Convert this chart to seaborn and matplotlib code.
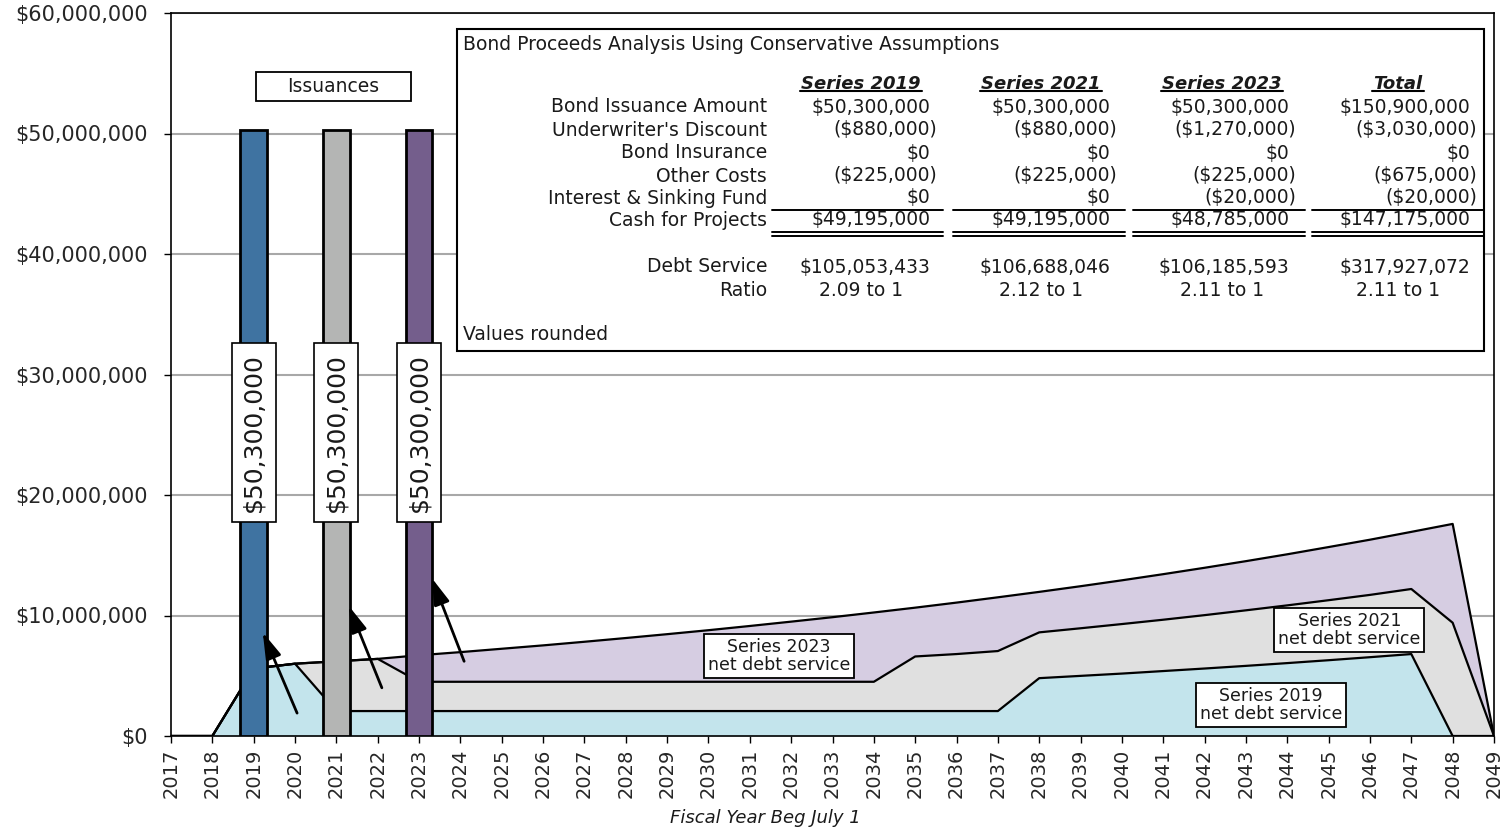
import matplotlib
matplotlib.use("Agg")
import matplotlib.pyplot as plt
import seaborn as sns
from matplotlib.patches import Rectangle
from matplotlib.lines import Line2D

# ---------------- data (values in $ millions) ----------------
years = [2017, 2018, 2019, 2020, 2021, 2022, 2023, 2024, 2025, 2026, 2027,
         2028, 2029, 2030, 2031, 2032, 2033, 2034, 2035, 2036, 2037, 2038,
         2039, 2040, 2041, 2042, 2043, 2044, 2045, 2046, 2047, 2048, 2049]

series_2019 = [0.00, 0.00, 5.60, 6.00, 2.07, 2.07, 2.07, 2.07, 2.07, 2.07, 2.07,
               2.07, 2.07, 2.07, 2.07, 2.07, 2.07, 2.07, 2.07, 2.07, 2.07, 4.80,
               4.99, 5.18, 5.39, 5.60, 5.82, 6.05, 6.29, 6.54, 6.80, 0.00, 0.00]

series_2021 = [0.00, 0.00, 0.00, 0.00, 4.13, 4.33, 2.43, 2.43, 2.43, 2.43, 2.43,
               2.43, 2.43, 2.43, 2.43, 2.43, 2.43, 2.43, 4.53, 4.73, 4.98, 3.80,
               3.95, 4.11, 4.26, 4.43, 4.61, 4.79, 4.98, 5.17, 5.40, 9.40, 0.00]

series_2023 = [0.00, 0.00, 0.00, 0.00, 0.00, 0.00, 2.20, 2.46, 2.74, 3.02, 3.32,
               3.63, 3.95, 4.28, 4.63, 4.99, 5.36, 5.75, 4.05, 4.27, 4.46, 3.36,
               3.49, 3.63, 3.78, 3.93, 4.08, 4.24, 4.41, 4.58, 4.74, 8.20, 0.00]

issue_years = [2019, 2021, 2023]
issue_amounts = [50.3, 50.3, 50.3]
issue_labels = ["$50,300,000", "$50,300,000", "$50,300,000"]

y_ticks = [0, 10, 20, 30, 40, 50, 60]
y_tick_labels = ["$0", "$10,000,000", "$20,000,000", "$30,000,000",
                 "$40,000,000", "$50,000,000", "$60,000,000"]

table_title = "Bond Proceeds Analysis Using Conservative Assumptions"
table_columns = ["Series 2019", "Series 2021", "Series 2023", "Total"]
table_rows = ["Bond Issuance Amount", "Underwriter's Discount", "Bond Insurance",
              "Other Costs", "Interest & Sinking Fund", "Cash for Projects"]
col_2019 = ["$50,300,000", "($880,000)", "$0", "($225,000)", "$0", "$49,195,000"]
col_2021 = ["$50,300,000", "($880,000)", "$0", "($225,000)", "$0", "$49,195,000"]
col_2023 = ["$50,300,000", "($1,270,000)", "$0", "($225,000)", "($20,000)", "$48,785,000"]
col_total = ["$150,900,000", "($3,030,000)", "$0", "($675,000)", "($20,000)", "$147,175,000"]
debt_service = ["$105,053,433", "$106,688,046", "$106,185,593", "$317,927,072"]
ratios = ["2.09 to 1", "2.12 to 1", "2.11 to 1", "2.11 to 1"]
table_note = "Values rounded"

area_labels = ["Series 2019\nnet debt service", "Series 2021\nnet debt service",
               "Series 2023\nnet debt service"]

# ---------------- style ----------------
sns.set_theme(style="white")
plt.rcParams["font.family"] = ["DejaVu Sans"]
plt.rcParams["text.color"] = "#1a1a1a"

fill_colors = ["#c3e4ec", "#e0e0e0", "#d6cde2"]
bar_colors = ["#3f73a1", "#b4b5b4", "#745e8c"]

W, H = 1504, 832
fig = plt.figure(figsize=(W / 100, H / 100), dpi=100)
AX_L, AX_R, AX_T, AX_B = 171, 1494, 13, 736
ax = fig.add_axes([AX_L / W, 1 - AX_B / H, (AX_R - AX_L) / W, (AX_B - AX_T) / H])


def axf(px, py):
    return ((px - AX_L) / (AX_R - AX_L), (AX_B - py) / (AX_B - AX_T))


# ---------------- stacked areas ----------------
cum1 = list(series_2019)
cum2 = [a + b for a, b in zip(series_2019, series_2021)]
cum3 = [a + b + c for a, b, c in zip(series_2019, series_2021, series_2023)]

ax.fill_between(years, 0, cum1, color=fill_colors[0], lw=0, zorder=2)
ax.fill_between(years, cum1, cum2, color=fill_colors[1], lw=0, zorder=2)
ax.fill_between(years, cum2, cum3, color=fill_colors[2], lw=0, zorder=2)
for cum in (cum1, cum2, cum3):
    sns.lineplot(x=years, y=cum, color="black", linewidth=1.6, ax=ax,
                 zorder=3, legend=False)

# ---------------- issuance bars ----------------
ax.bar(issue_years, issue_amounts, width=0.65, color=bar_colors,
       edgecolor="black", linewidth=2, zorder=4)
for yr, lab in zip(issue_years, issue_labels):
    ax.text(yr, 25.2, lab, rotation=90, ha="center", va="center", fontsize=18,
            zorder=6,
            bbox=dict(boxstyle="square,pad=0.4", fc="white", ec="black", lw=1.2))

# "Issuances" box
ax.add_patch(Rectangle((2019.06, 52.7), 3.75, 2.4, fc="white", ec="black",
                       lw=1.3, zorder=6))
ax.text(2020.93, 53.9, "Issuances", ha="center", va="center", fontsize=13.5,
        zorder=7)

# arrows
arrow_specs = [((2020.05, 1.9), (2019.22, 8.6)),
               ((2022.10, 4.0), (2021.30, 10.8)),
               ((2024.09, 6.2), (2023.31, 13.1))]
for tail, head in arrow_specs:
    ax.annotate("", xy=head, xytext=tail, zorder=7,
                arrowprops=dict(arrowstyle="-|>,head_length=1.0,head_width=0.3",
                                color="black", lw=2, shrinkA=0, shrinkB=0,
                                mutation_scale=16))

# area labels
label_pos = [(2043.6, 2.57), (2045.5, 8.8), (2031.7, 6.64)]
for (lx, ly), lab in zip(label_pos, area_labels):
    ax.text(lx, ly, lab, ha="center", va="center", fontsize=12.5,
            linespacing=1.0, zorder=6,
            bbox=dict(boxstyle="square,pad=0.22", fc="white", ec="black", lw=1.3))

# ---------------- axes ----------------
ax.set_xlim(2017, 2049)
ax.set_ylim(0, 60)
ax.set_xticks(years)
ax.set_xticklabels([str(y) for y in years], rotation=90, fontsize=14)
ax.set_yticks(y_ticks)
ax.set_yticklabels(y_tick_labels, fontsize=15)
ax.tick_params(axis="both", direction="out", length=5, width=1, color="black",
               bottom=True, left=True)
ax.tick_params(axis="y", pad=12)
ax.tick_params(axis="x", pad=4)
ax.set_axisbelow(True)
ax.yaxis.grid(True, color="#a8a8a8", lw=1.5)
ax.xaxis.grid(False)
for sp in ax.spines.values():
    sp.set_color("black")
    sp.set_linewidth(1.2)
ax.set_xlabel("")
ax.set_ylabel("")
fig.text(765 / W, 1 - 818 / H, "Fiscal Year Beg July 1", ha="center",
         va="center", fontsize=13, style="italic")

# ---------------- table box ----------------
x0, y0 = axf(457, 351)
x1, y1 = axf(1484, 29)
ax.add_patch(Rectangle((x0, y0), x1 - x0, y1 - y0, transform=ax.transAxes,
                       fc="white", ec="black", lw=1.5, zorder=10, clip_on=False))

TFS = 13.5


def ttext(px, py, s, ha="left", **kw):
    ax.text(*axf(px, py), s, transform=ax.transAxes, ha=ha, va="center",
            fontsize=kw.pop("fontsize", TFS), zorder=11, clip_on=False, **kw)


ttext(463, 44, table_title)
ttext(463, 335, table_note)

row_y = [107, 130, 153, 176, 198, 220]
for yy, lab in zip(row_y, table_rows):
    ttext(767, yy, lab, ha="right")
ttext(767, 267, "Debt Service", ha="right")
ttext(767, 290, "Ratio", ha="right")

right_edges = [930, 1110, 1289, 1470]
centers = [861, 1041, 1222, 1398]
columns = [col_2019, col_2021, col_2023, col_total]
header_texts = []
for ci, (col, rx, cx) in enumerate(zip(columns, right_edges, centers)):
    t = ax.text(*axf(cx, 84), table_columns[ci], transform=ax.transAxes,
                ha="center", va="center", fontsize=13, fontweight="bold",
                style="italic", zorder=11)
    header_texts.append(t)
    for yy, val in zip(row_y, col):
        xr = rx + 7 if val.endswith(")") else rx
        ttext(xr, yy, val, ha="right")
    ttext(rx, 267, debt_service[ci], ha="right")
    ttext(cx, 290, ratios[ci], ha="center")

# rule lines
segments = [(772, 943), (953, 1125), (1133, 1305), (1312, 1484)]
for a, b in segments:
    for yy in (210, 232, 236):
        (xa, ya), (xb, _) = axf(a, yy), axf(b, yy)
        ax.add_line(Line2D([xa, xb], [ya, ya], transform=ax.transAxes,
                           color="black", lw=1.4, zorder=11, clip_on=False))

# header underlines
fig.canvas.draw()
renderer = fig.canvas.get_renderer()
inv = ax.transAxes.inverted()
for t in header_texts:
    bb = t.get_window_extent(renderer=renderer)
    (ux0, uy), (ux1, _) = inv.transform([(bb.x0 - 1, bb.y0 + 2), (bb.x1 + 1, bb.y0 + 2)])
    ax.add_line(Line2D([ux0, ux1], [uy, uy], transform=ax.transAxes,
                       color="black", lw=1.5, zorder=11, clip_on=False))

fig.savefig("out.png", dpi=100)
